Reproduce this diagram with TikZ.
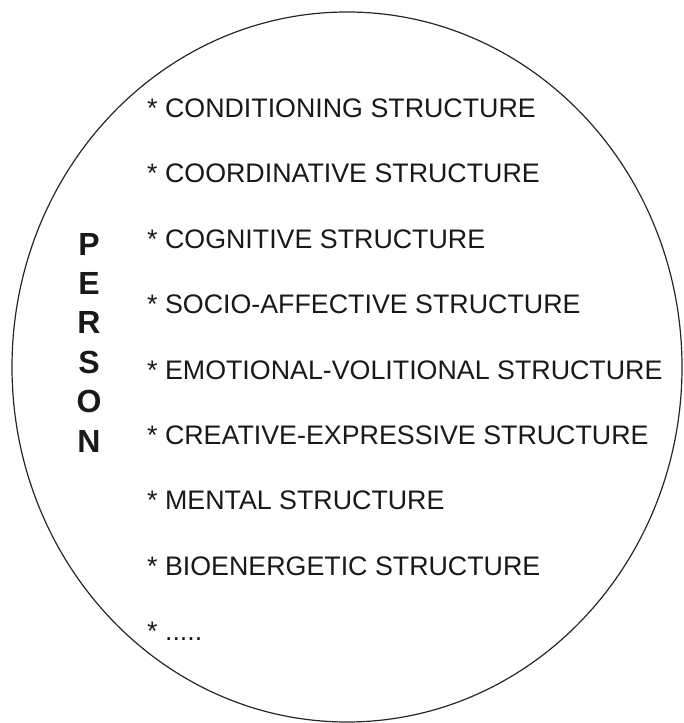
\documentclass[tikz,border=0pt]{standalone}
\usepackage{fontspec}
\setmainfont{Liberation Sans}
\usetikzlibrary{positioning}

\begin{document}
\begin{tikzpicture}[
        x=1pt, y=1pt,
        node distance=65.4pt,
        item/.style={inner sep=0pt, font=\fontsize{26.8}{30}\selectfont, text=black!90},
        outline/.style={draw=black!85, line width=1.2pt}
    ]
        \useasboundingbox (0,0) rectangle (683,723);
        \draw[outline] (347,356) ellipse [x radius=335, y radius=355];

        \node[item, font=\bfseries\fontsize{32}{39.4}\selectfont, align=center] (person) at (89,380.5) {P\\E\\R\\S\\O\\N};

        \node[item, anchor=base west] (cond) at (147,605.5) {* CONDITIONING STRUCTURE};
        \node[item, below=of cond.base west, anchor=base west] (coord) {* COORDINATIVE STRUCTURE};
        \node[item, below=of coord.base west, anchor=base west] (cogn) {* COGNITIVE STRUCTURE};
        \node[item, below=of cogn.base west, anchor=base west] (socio) {* SOCIO-AFFECTIVE STRUCTURE};
        \node[item, below=of socio.base west, anchor=base west] (emot) {* EMOTIONAL-VOLITIONAL STRUCTURE};
        \node[item, below=of emot.base west, anchor=base west] (creat) {* CREATIVE-EXPRESSIVE STRUCTURE};
        \node[item, below=of creat.base west, anchor=base west] (ment) {* MENTAL STRUCTURE};
        \node[item, below=of ment.base west, anchor=base west] (bio) {* BIOENERGETIC STRUCTURE};
        \node[item, below=of bio.base west, anchor=base west] (more) {* .....};
    \end{tikzpicture}
\end{document}
